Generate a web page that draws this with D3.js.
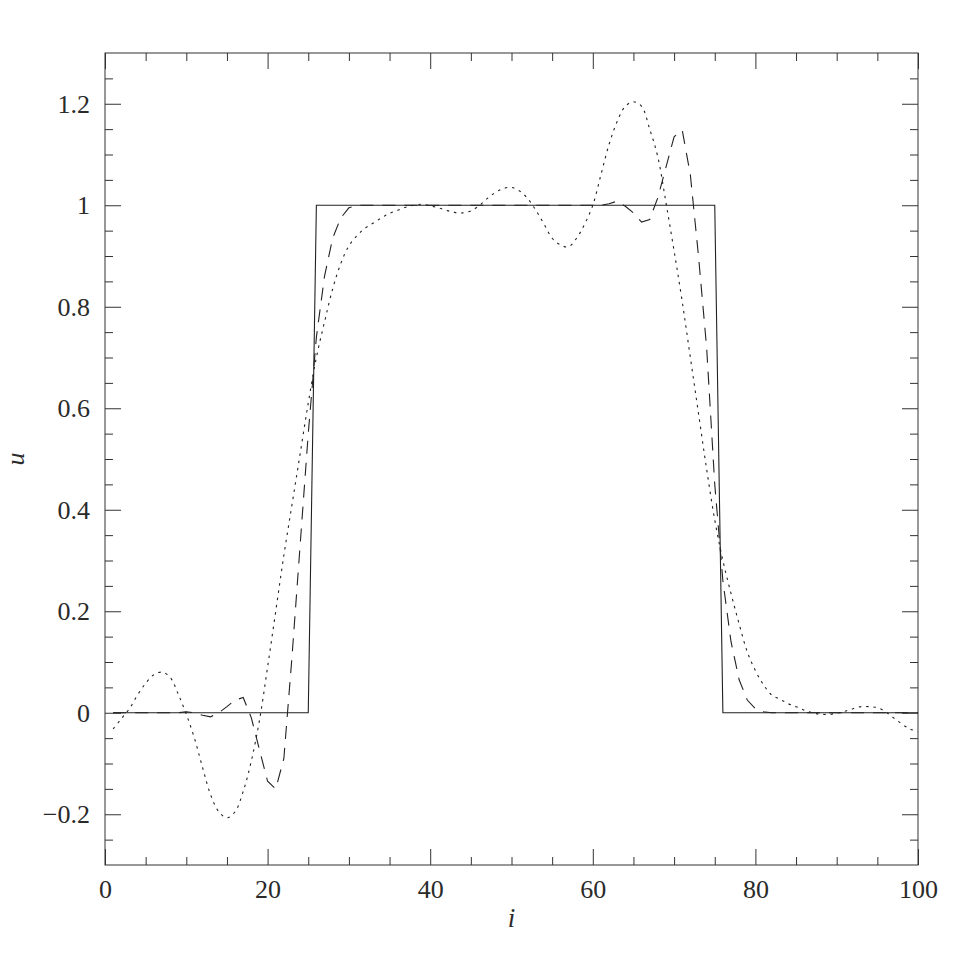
<!DOCTYPE html>
<html>
<head>
<meta charset="utf-8">
<script src="https://cdn.jsdelivr.net/npm/d3@7"></script>
<style>
  html, body { margin: 0; padding: 0; background: #fff; }
  svg { display: block; }
  text { font-family: "Liberation Serif", "DejaVu Serif", serif; fill: #2a2a2a; }
</style>
</head>
<body>
<svg id="chart" width="969" height="969"></svg>
<script>
// ---- data ----
const iValues = [1,2,3,4,5,6,7,8,9,10,11,12,13,14,15,16,17,18,19,20,
  21,22,23,24,25,26,27,28,29,30,31,32,33,34,35,36,37,38,39,40,
  41,42,43,44,45,46,47,48,49,50,51,52,53,54,55,56,57,58,59,60,
  61,62,63,64,65,66,67,68,69,70,71,72,73,74,75,76,77,78,79,80,
  81,82,83,84,85,86,87,88,89,90,91,92,93,94,95,96,97,98,99,100];

// exact step profile (solid)
const exactU = [0,0,0,0,0,0,0,0,0,0, 0,0,0,0,0,0,0,0,0,0,
  0,0,0,0,0,1,1,1,1,1, 1,1,1,1,1,1,1,1,1,1,
  1,1,1,1,1,1,1,1,1,1, 1,1,1,1,1,1,1,1,1,1,
  1,1,1,1,1,1,1,1,1,1, 1,1,1,1,1,0,0,0,0,0,
  0,0,0,0,0,0,0,0,0,0, 0,0,0,0,0,0,0,0,0,0];

// dashed series
const dashedU = [0,0,0,0,0,0,0,0,0,0.002, 0,-0.005,-0.008,0,0.012,0.025,0.03,-0.01,-0.073,-0.135,
  -0.15,-0.09,0.11,0.33,0.55,0.74,0.86,0.935,0.975,0.995,
  1,1,1,1,1,1,1,1,1,1,
  1,1,1,1,1,1,1,1,1,1,
  1,1,1,1,1,1,1,1,1,1,
  1,1.003,1.008,0.998,0.985,0.967,0.972,1.015,1.075,1.135,
  1.148,1.06,0.9,0.72,0.45,0.26,0.14,0.065,0.025,0.008,
  0.002,0,0,0,0,0,0,0,0,0, 0,0,0,0,0,0,0,0,0,0];

// dotted series
const dottedU = [-0.032,-0.012,0.008,0.035,0.058,0.075,0.08,0.07,0.037,-0.003,
  -0.05,-0.108,-0.162,-0.195,-0.207,-0.195,-0.155,-0.095,-0.015,0.09,
  0.2,0.31,0.41,0.51,0.61,0.70,0.77,0.835,0.885,0.92,
  0.94,0.955,0.965,0.975,0.984,0.99,0.996,1.0,1.002,0.999,
  0.995,0.99,0.986,0.985,0.989,0.999,1.013,1.025,1.033,1.035,
  1.028,1.013,0.99,0.963,0.935,0.922,0.918,0.935,0.963,1.0,
  1.06,1.12,1.165,1.195,1.204,1.195,1.15,1.095,1.005,0.91,
  0.81,0.7,0.59,0.48,0.38,0.30,0.235,0.175,0.12,0.083,
  0.055,0.035,0.027,0.018,0.012,0.005,0,-0.003,-0.003,-0.001,
  0.003,0.008,0.012,0.012,0.01,0.002,-0.01,-0.022,-0.032,-0.037];

const xMajorTicks = [0, 20, 40, 60, 80, 100];
const xMinorTicks = [5,10,15,25,30,35,45,50,55,65,70,75,85,90,95];
const yMajorTicks = [-0.2, 0, 0.2, 0.4, 0.6, 0.8, 1, 1.2];
const yMinorTicks = [-0.25,-0.15,-0.1,-0.05,0.05,0.1,0.15,0.25,0.3,0.35,0.45,0.5,0.55,
  0.65,0.7,0.75,0.85,0.9,0.95,1.05,1.1,1.15,1.25];
const xLabel = "i";
const yLabel = "u";

// ---- layout ----
const L = 105, R = 918, T = 53, B = 865;
const svg = d3.select("#chart");
const x = d3.scaleLinear().domain([0, 100]).range([L, R]);
const y = d3.scaleLinear().domain([-0.3, 1.3]).range([B, T]);

const fmt = v => (v < 0 ? "\u2212" : "") + d3.format("~g")(Math.abs(v));
const axisColor = "#333";

function styleAxis(g) {
  g.select(".domain").remove();
  g.selectAll(".tick line").attr("stroke", axisColor).attr("stroke-width", 1);
  g.selectAll("text").attr("font-size", 26).attr("fill", "#2a2a2a")
    .attr("font-family", "'Liberation Serif', 'DejaVu Serif', serif");
}

// bottom
svg.append("g").attr("transform", `translate(0,${B})`)
  .call(d3.axisBottom(x).tickValues(xMajorTicks).tickSize(-16).tickPadding(15).tickFormat(fmt))
  .call(styleAxis);
svg.append("g").attr("transform", `translate(0,${B})`)
  .call(d3.axisBottom(x).tickValues(xMinorTicks).tickSize(-8).tickFormat(""))
  .call(styleAxis);
// top
svg.append("g").attr("transform", `translate(0,${T})`)
  .call(d3.axisTop(x).tickValues(xMajorTicks).tickSize(-16).tickFormat(""))
  .call(styleAxis);
svg.append("g").attr("transform", `translate(0,${T})`)
  .call(d3.axisTop(x).tickValues(xMinorTicks).tickSize(-8).tickFormat(""))
  .call(styleAxis);
// left
svg.append("g").attr("transform", `translate(${L},0)`)
  .call(d3.axisLeft(y).tickValues(yMajorTicks).tickSize(-16).tickPadding(15).tickFormat(fmt))
  .call(styleAxis);
svg.append("g").attr("transform", `translate(${L},0)`)
  .call(d3.axisLeft(y).tickValues(yMinorTicks).tickSize(-8).tickFormat(""))
  .call(styleAxis);
// right
svg.append("g").attr("transform", `translate(${R},0)`)
  .call(d3.axisRight(y).tickValues(yMajorTicks).tickSize(-16).tickFormat(""))
  .call(styleAxis);
svg.append("g").attr("transform", `translate(${R},0)`)
  .call(d3.axisRight(y).tickValues(yMinorTicks).tickSize(-8).tickFormat(""))
  .call(styleAxis);

// frame
svg.append("rect").attr("x", L).attr("y", T).attr("width", R - L).attr("height", B - T)
  .attr("fill", "none").attr("stroke", axisColor).attr("stroke-width", 1);

// axis labels
svg.append("text").attr("x", (L + R) / 2).attr("y", 927).attr("text-anchor", "middle")
  .attr("font-size", 27).attr("font-style", "italic").text(xLabel);
svg.append("text").attr("transform", `translate(24,${(T + B) / 2}) rotate(-90)`)
  .attr("text-anchor", "middle").attr("font-size", 26).attr("font-style", "italic").text(yLabel);

// ---- series ----
const lineLinear = d3.line().x((d, k) => x(iValues[k])).y(d => y(d));
const lineSmooth = d3.line().x((d, k) => x(iValues[k])).y(d => y(d)).curve(d3.curveCatmullRom.alpha(0.5));

svg.append("path").datum(exactU).attr("d", lineLinear)
  .attr("fill", "none").attr("stroke", "#222").attr("stroke-width", 1.1);
svg.append("path").datum(dashedU).attr("d", lineLinear)
  .attr("fill", "none").attr("stroke", "#222").attr("stroke-width", 1.1)
  .attr("stroke-dasharray", "13,9");
svg.append("path").datum(dottedU).attr("d", lineSmooth)
  .attr("fill", "none").attr("stroke", "#222").attr("stroke-width", 1.1)
  .attr("stroke-dasharray", "2.5,4.8");
</script>
</body>
</html>
